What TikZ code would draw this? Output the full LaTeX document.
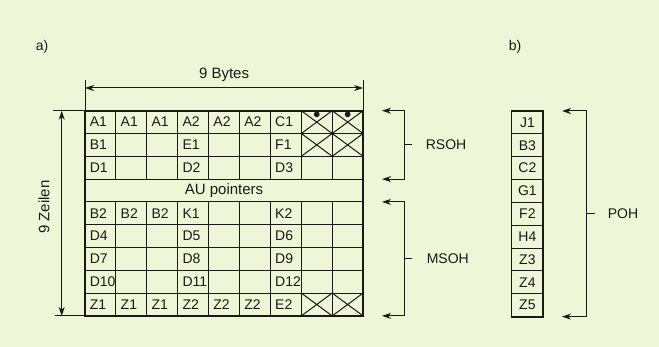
\documentclass[tikz,border=0pt]{standalone}
\usepackage{fontspec}
\setmainfont{Liberation Sans}
\usetikzlibrary{calc,arrows.meta}
\definecolor{paper}{RGB}{237,247,215}
\definecolor{ink}{RGB}{25,25,22}

\tikzset{
  frame/.style={line width=1.9pt},
  rule/.style={line width=1pt},
  dimline/.style={line width=1pt,{Stealth[length=9pt,width=6pt,inset=2.8pt]}-{Stealth[length=9pt,width=6pt,inset=2.8pt]}},
  cell/.style={anchor=west,inner sep=0pt},
  big/.style={font=\fontsize{15}{17}\selectfont},
}

\begin{document}
\begin{tikzpicture}[x=1pt,y=-1pt,line width=1pt,draw=ink,text=ink,font=\fontsize{14}{16}\selectfont]
\fill[paper] (0,0) rectangle (659,347);
\useasboundingbox (0,0) rectangle (659,347);

\node (la) at (42,46.5) {a)};
\node (lb) at (515,46.5) {b)};

% a) overhead frame, 9 rows x 9 columns
\begin{scope}[shift={(85,110.7)},x=30.9pt,y=-22.8pt]
\coordinate (gNW) at (0,0); \coordinate (gNE) at (9,0);
\coordinate (gSW) at (0,9); \coordinate (gSE) at (9,9);
\draw[rule] foreach \r in {1,...,8} {(0,\r) -- (9,\r)};
\draw[rule] foreach \c in {1,...,8} {(\c,0) -- (\c,3) (\c,4) -- (\c,9)};
\foreach \c/\r in {7/0,8/0,7/1,8/1,7/8,8/8}
  \draw[rule] (\c,\r) -- ++(1,1) (\c+1,\r) -- ++(-1,1);
\fill[ink] (7.5,.16) circle (2.9pt) (8.5,.16) circle (2.9pt) (8,1) circle (1.8pt);
\draw[frame] (gNW) rectangle (gSE);
\foreach \r/\row in {0/{A1,A1,A1,A2,A2,A2,C1},1/{B1,,,E1,,,F1},2/{D1,,,D2,,,D3},
    4/{B2,B2,B2,K1,,,K2},5/{D4,,,D5,,,D6},6/{D7,,,D8,,,D9},7/{D10,,,D11,,,D12},
    8/{Z1,Z1,Z1,Z2,Z2,Z2,E2}}
  \foreach \t [count=\c from 0] in \row
    \node[cell] (c\r-\c) at (\c+.14,\r+.5) {\t};
\node[big] (au) at (4.5,3.5) {AU pointers};
\end{scope}

% dimensions
\draw (gNW) -- ++(0,-31) coordinate (bL);
\draw (gNE) -- ++(0,-31) coordinate (bR);
\draw[dimline] ($(gNW)+(0,-22.7)$) -- ($(gNE)+(0,-22.7)$);
\node[big] (bytes) at ($(gNW)!.5!(gNE)+(0,-36)$) {9 Bytes};
\draw (gNW) -- ++(-32,0) coordinate (zT);
\draw (gSW) -- ++(-30,0) coordinate (zB);
\draw[dimline] ($(gNW)+(-23.3,0)$) -- ($(gSW)+(-23.3,0)$);
\node[big,rotate=90] (rows) at (44,207) {9 Zeilen};

% brackets
\coordinate (rsT) at (382,110.7); \coordinate (rsB) at (404,179.1);
\coordinate (msT) at (382,201.9); \coordinate (msB) at (404,315.9);
\draw[dimline] (rsT) -| (rsB) -- ++(-22,0);
\draw[dimline] (msT) -| (msB) -- ++(-22,0);
\node[anchor=west] (rsoh) at (422,144.9) {RSOH};
\node[anchor=west] (msoh) at (423,258.9) {MSOH};
\draw ($(rsB)+(0,-34.2)$) -- ++(8,0);
\draw ($(msB)+(0,-57)$) -- ++(8,0);

% b) path overhead
\begin{scope}[shift={(511.5,111)},x=31.8pt,y=-22.85pt]
\coordinate (pNW) at (0,0); \coordinate (pSE) at (1,9);
\draw[rule] foreach \r in {1,...,8} {(0,\r) -- (1,\r)};
\draw[frame] (pNW) rectangle (pSE);
\foreach \t [count=\r from 0] in {J1,B3,C2,G1,F2,H4,Z3,Z4,Z5}
  \node (p\r) at (.5,\r+.5) {\t};
\end{scope}
\coordinate (poT) at (562,111); \coordinate (poB) at (586,316.6);
\draw[dimline] (poT) -| (poB) -- ++(-24,0);
\draw ($(poB)+(0,-102.8)$) -- ++(9,0);
\node[anchor=west] (poh) at (604,213.8) {POH};
\end{tikzpicture}
\end{document}
